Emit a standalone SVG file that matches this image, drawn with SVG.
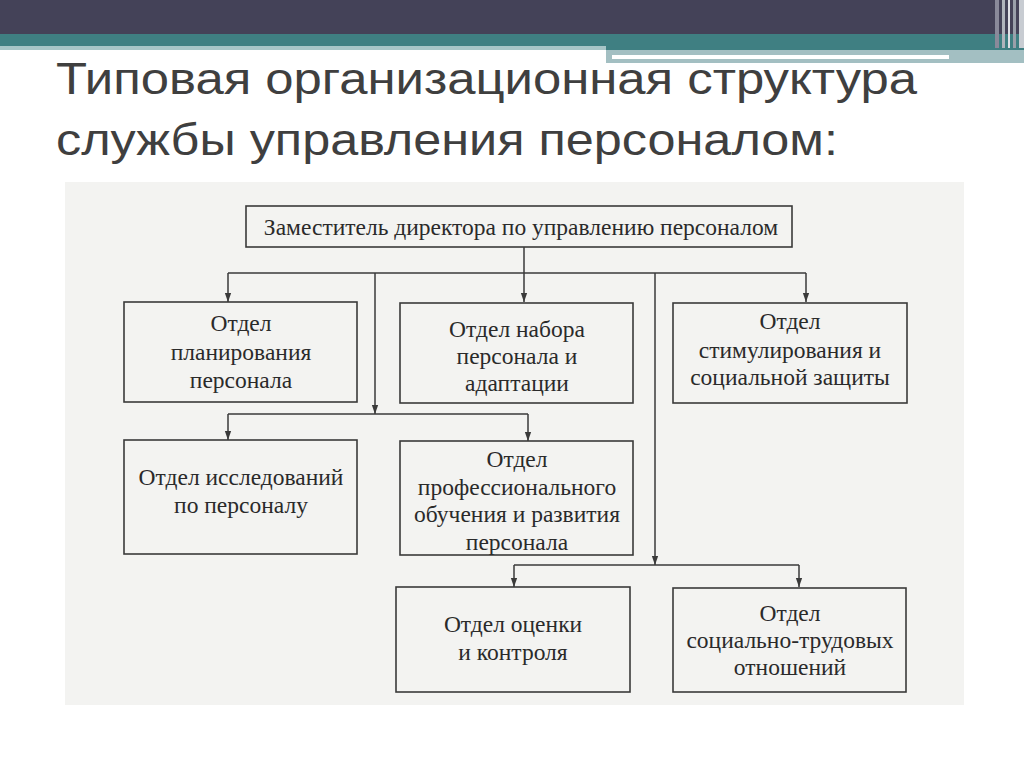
<svg xmlns="http://www.w3.org/2000/svg" width="1024" height="768" viewBox="0 0 1024 768">
<defs>
<marker id="arr" viewBox="0 0 10 10" refX="10" refY="5" markerWidth="9" markerHeight="9" markerUnits="userSpaceOnUse" orient="auto">
<path d="M0,1.5 L10,5 L0,8.5 Z" fill="#3a3a3a"/>
</marker>
<style>
.box{fill:none;stroke:#3a3a3a;stroke-width:1.6}
.t{font-family:"Liberation Serif","DejaVu Serif",serif;font-size:23.5px;fill:#2a2a2a;text-anchor:middle}
.ln{fill:none;stroke:#3a3a3a;stroke-width:1.5}
.title{font-family:"Liberation Sans","DejaVu Sans",sans-serif;font-size:44px;fill:#3f3f3f}
</style>
</defs>
<rect width="1024" height="768" fill="#ffffff"/>
<!-- header bands -->
<rect x="0" y="0" width="1024" height="34" fill="#444258"/>
<rect x="0" y="34" width="1024" height="12" fill="#3f7f82"/>
<rect x="0" y="46" width="606" height="4" fill="#a7c5c7"/>
<rect x="606" y="46" width="418" height="4" fill="#3f7f82"/>
<rect x="606" y="50" width="418" height="13" fill="#a3bfc2"/>
<rect x="612" y="55" width="337" height="4" fill="#ffffff"/>
<rect x="995" y="0" width="4" height="48" fill="#8a8a9a"/>
<rect x="1002" y="0" width="3" height="48" fill="#b0b4bc"/>
<rect x="1008" y="0" width="2" height="48" fill="#e0e0e6"/>
<rect x="1013" y="0" width="3" height="48" fill="#9aa0aa"/>
<rect x="1019" y="0" width="5" height="48" fill="#c8ccd2"/>
<!-- title -->
<text class="title" x="56" y="94" textLength="861" lengthAdjust="spacingAndGlyphs">Типовая организационная структура</text>
<text class="title" x="56" y="155" textLength="782" lengthAdjust="spacingAndGlyphs">службы управления персоналом:</text>
<!-- scan background -->
<rect x="65" y="182" width="899" height="523" fill="#f3f3f1"/>
<!-- connectors -->
<g id="connectors">
<line class="ln" x1="524" y1="247" x2="524" y2="302" marker-end="url(#arr)"/>
<line class="ln" x1="228" y1="273" x2="806" y2="273"/>
<line class="ln" x1="228" y1="273" x2="228" y2="302" marker-end="url(#arr)"/>
<line class="ln" x1="806" y1="273" x2="806" y2="302" marker-end="url(#arr)"/>
<line class="ln" x1="375" y1="273" x2="375" y2="414" marker-end="url(#arr)"/>
<line class="ln" x1="655" y1="273" x2="655" y2="565" marker-end="url(#arr)"/>
<line class="ln" x1="228" y1="414" x2="528" y2="414"/>
<line class="ln" x1="228" y1="414" x2="228" y2="440" marker-end="url(#arr)"/>
<line class="ln" x1="528" y1="414" x2="528" y2="441" marker-end="url(#arr)"/>
<line class="ln" x1="514" y1="565" x2="799" y2="565"/>
<line class="ln" x1="514" y1="565" x2="514" y2="587" marker-end="url(#arr)"/>
<line class="ln" x1="799" y1="565" x2="799" y2="587" marker-end="url(#arr)"/>
</g>
<!-- nodes -->
<g id="n-deputy">
<rect class="box" x="246" y="206" width="546" height="41"/>
<text class="t" x="521" y="235">Заместитель директора по управлению персоналом</text>
</g>
<g id="n-planning">
<rect class="box" x="124" y="302" width="233" height="100"/>
<text class="t" x="241" y="331">Отдел</text>
<text class="t" x="241" y="360">планирования</text>
<text class="t" x="241" y="388">персонала</text>
</g>
<g id="n-recruit">
<rect class="box" x="400" y="303" width="233" height="100"/>
<text class="t" x="517" y="337">Отдел набора</text>
<text class="t" x="517" y="364">персонала и</text>
<text class="t" x="517" y="391">адаптации</text>
</g>
<g id="n-stimul">
<rect class="box" x="673" y="303" width="234" height="100"/>
<text class="t" x="790" y="329">Отдел</text>
<text class="t" x="790" y="358">стимулирования и</text>
<text class="t" x="790" y="385">социальной защиты</text>
</g>
<g id="n-research">
<rect class="box" x="124" y="440" width="233" height="114"/>
<text class="t" x="241" y="485">Отдел исследований</text>
<text class="t" x="241" y="513">по персоналу</text>
</g>
<g id="n-training">
<rect class="box" x="400" y="441" width="233" height="114"/>
<text class="t" x="517" y="467">Отдел</text>
<text class="t" x="517" y="495">профессионального</text>
<text class="t" x="517" y="522">обучения и развития</text>
<text class="t" x="517" y="550">персонала</text>
</g>
<g id="n-assess">
<rect class="box" x="396" y="587" width="234" height="105"/>
<text class="t" x="513" y="632">Отдел оценки</text>
<text class="t" x="513" y="660">и контроля</text>
</g>
<g id="n-labor">
<rect class="box" x="673" y="588" width="233" height="104"/>
<text class="t" x="790" y="621">Отдел</text>
<text class="t" x="790" y="648">социально-трудовых</text>
<text class="t" x="790" y="675">отношений</text>
</g>
</svg>
